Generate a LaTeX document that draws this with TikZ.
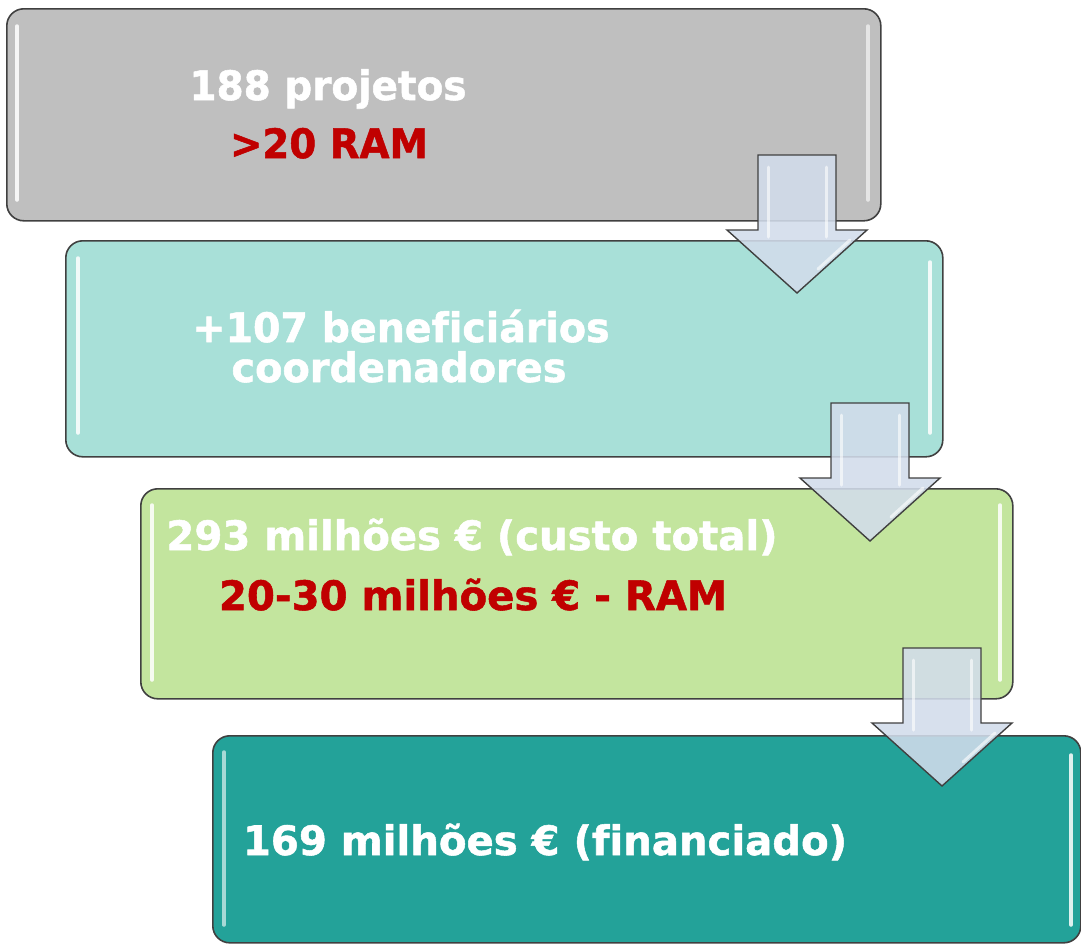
\documentclass[tikz,border=0pt]{standalone}
\usepackage{fontspec}
\setmainfont{DejaVu Sans}[Ligatures=NoCommon, BoldFeatures={FakeBold=1.3}]
\usepackage{graphicx}
\usepackage{tikz}
\usetikzlibrary{positioning}
\definecolor{cinza}{HTML}{BFBFBF}
\definecolor{agua}{HTML}{A8E0D8}
\definecolor{verde}{HTML}{C3E59E}
\definecolor{teal}{HTML}{23A299}
\definecolor{vermelho}{HTML}{C00000}
\definecolor{setacor}{HTML}{D2DCEB}
% largura fixa do texto, altura natural
\newcommand{\ajusta}[2]{\resizebox{#1}{\height}{#2}}

\tikzset{
  etapa/.style={draw=black!75, line width=1.6pt, rounded corners=17pt, anchor=north west, inner sep=0pt},
  txtbranco/.style={text=white, font=\fontsize{40.5}{48}\selectfont\bfseries, anchor=base, inner sep=0pt},
  txtverm/.style={txtbranco, text=vermelho},
  seta/.style={draw=black!75, line width=1.4pt, fill=setacor, fill opacity=0.88, line join=miter},
  brilho/.style={white, line width=3.5pt, line cap=round, opacity=0.85}
}

\begin{document}
\begin{tikzpicture}[x=1pt,y=-1pt]
    \useasboundingbox (0,0) rectangle (1081,943);

    % Etapa 1
    \node[etapa, fill=cinza, minimum width=874pt, minimum height=212pt] (E1) at (6,8) {};
    \draw[brilho] (17,26) -- (17,200);
    \draw[brilho, opacity=0.6] (868,26) -- (868,200);
    \node[txtbranco] (t1a) at (328,100) {\ajusta{277pt}{188 projetos}};
    \node[txtverm] (t1b) at (329,158) {\ajusta{198pt}{>20 RAM}};

    % Etapa 2
    \node[etapa, fill=agua, minimum width=877pt, minimum height=216pt] (E2) at (65,240) {};
    \draw[brilho] (78,258) -- (78,433);
    \draw[brilho] (930,262) -- (930,433);
    \node[txtbranco] (t2a) at (401,342) {\ajusta{417pt}{+107 beneficiários}};
    \node[txtbranco] (t2b) at (399,382) {\ajusta{335pt}{coordenadores}};

    % Seta 1
    \coordinate (s1) at (797,155);

    % Etapa 3
    \node[etapa, fill=verde, minimum width=872pt, minimum height=210pt] (E3) at (140,488) {};
    \draw[brilho] (152,505) -- (152,680);
    \draw[brilho] (1000,505) -- (1000,680);
    \node[txtbranco] (t3a) at (472,550) {\ajusta{611pt}{293 milhões € (custo total)}};
    \node[txtverm] (t3b) at (473,610) {\ajusta{508pt}{20-30 milhões € - RAM}};

    % Seta 2
    \coordinate (s2) at (870,403);

    % Etapa 4
    \node[etapa, fill=teal, minimum width=868pt, minimum height=207pt] (E4) at (212,735) {};
    \draw[brilho, opacity=0.6] (224,752) -- (224,925);
    \draw[brilho] (1071,755) -- (1071,925);
    \node[txtbranco] (t4a) at (545,855) {\ajusta{604pt}{169 milhões € (financiado)}};

    % Seta 3
    \coordinate (s3) at (942,648);

    % Setas entre as etapas
    \foreach \s in {s1,s2,s3}{
      \draw[seta] (\s) ++(-39,0) -- ++(78,0) -- ++(0,75) -- ++(31,0)
        -- ++(-70,63) -- ++(-70,-63) -- ++(31,0) -- cycle;
      \draw[brilho, opacity=0.6, line width=3pt] (\s) ++(-29,12) -- ++(0,70);
      \draw[brilho, opacity=0.6, line width=3pt] (\s) ++(29,12) -- ++(0,70);
      \draw[brilho, opacity=0.6, line width=3pt] (\s) ++(53,85) -- ++(-32,29);
    }
\end{tikzpicture}
\end{document}
